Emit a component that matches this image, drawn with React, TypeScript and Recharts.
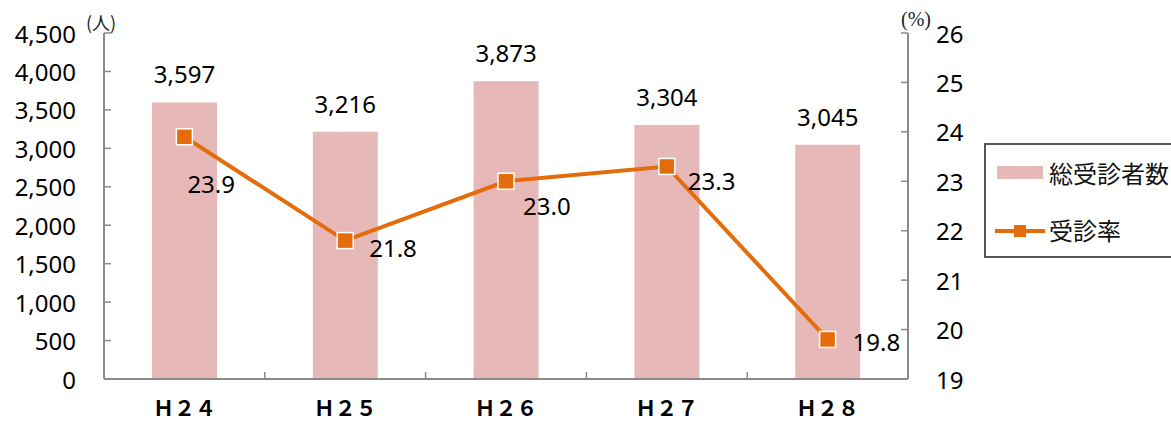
import { ComposedChart, Bar, Line, XAxis, YAxis, LabelList } from 'recharts';

const categories = ['Ｈ２４', 'Ｈ２５', 'Ｈ２６', 'Ｈ２７', 'Ｈ２８'];
const examinees = [3597, 3216, 3873, 3304, 3045];
const rates = [23.9, 21.8, 23.0, 23.3, 19.8];
const countTicks = [0, 500, 1000, 1500, 2000, 2500, 3000, 3500, 4000, 4500];
const rateTicks = [19, 20, 21, 22, 23, 24, 25, 26];

// where each rate label sits relative to its marker (text left edge / text centre)
const rateLabelNudge = [
  { dx: 3, dy: 47 },
  { dx: 24, dy: 7 },
  { dx: 17, dy: 24 },
  { dx: 21, dy: 14 },
  { dx: 25, dy: 2 },
];

const data = categories.map((name, i) => ({ name, examinees: examinees[i], rate: rates[i] }));

const W = 1171;
const H = 423;
const PLOT_LEFT = 104;
const PLOT_RIGHT = 908;
const BAND = (PLOT_RIGHT - PLOT_LEFT) / categories.length;

const AXIS = '#8a8a8a';
const BAR = '#e6b9b8';
const ORANGE = '#e46c0a';
const NUM_FONT = '"Noto Sans", sans-serif';
const JP_FONT = '"Noto Sans CJK JP", sans-serif';

const LeftTick = (props: any) => {
  const { x, y, payload } = props;
  return (
    <g>
      {payload.value !== 0 && <line x1={x} x2={x + 7} y1={y} y2={y} stroke={AXIS} strokeWidth={1.5} />}
      <text x={x - 28} y={y} textAnchor="end" dominantBaseline="central" fontSize={24} fontFamily={NUM_FONT} fill="#000">
        {Number(payload.value).toLocaleString('en-US')}
      </text>
    </g>
  );
};

const RightTick = (props: any) => {
  const { x, y, payload } = props;
  return (
    <g>
      {payload.value !== 19 && <line x1={x} x2={x - 7} y1={y} y2={y} stroke={AXIS} strokeWidth={1.5} />}
      <text x={x + 28} y={y} textAnchor="start" dominantBaseline="central" fontSize={24} fontFamily={NUM_FONT} fill="#000">
        {payload.value}
      </text>
    </g>
  );
};

const BottomTick = (props: any) => {
  const { x, y, payload, index } = props;
  const bx = x - BAND / 2;
  return (
    <g>
      {index > 0 && <line x1={bx} x2={bx} y1={y} y2={y - 7} stroke={AXIS} strokeWidth={1.5} />}
      <text x={x} y={y + 28} textAnchor="middle" dominantBaseline="central" fontSize={21} fontWeight="bold" fontFamily={JP_FONT} fill="#000">
        {payload.value}
      </text>
    </g>
  );
};

const RateDot = (props: any) => {
  const { cx, cy } = props;
  if (cx == null || cy == null) return null;
  return <rect x={cx - 8} y={cy - 8} width={16} height={16} fill={ORANGE} stroke="#fff" strokeWidth={1.5} />;
};

const RateLabel = (props: any) => {
  const { x, y, value, index } = props;
  const n = rateLabelNudge[index] || { dx: 20, dy: 0 };
  return (
    <text x={x + n.dx} y={y + n.dy} textAnchor="start" dominantBaseline="central" fontSize={24} fontFamily={NUM_FONT} fill="#000">
      {Number(value).toFixed(1)}
    </text>
  );
};

export default function App() {
  return (
    <div style={{ position: 'absolute', left: 0, top: 0, width: W, height: H, background: '#fff', overflow: 'hidden' }}>
      <ComposedChart
        width={W}
        height={H}
        data={data}
        margin={{ top: 33, right: W - PLOT_RIGHT - 60, bottom: 0, left: 0 }}
      >
        <XAxis
          dataKey="name"
          height={44}
          stroke={AXIS}
          axisLine={{ stroke: AXIS, strokeWidth: 2 }}
          tickLine={false}
          tickSize={0}
          tickMargin={0}
          tick={<BottomTick />}
          interval={0}
        />
        <YAxis
          yAxisId="left"
          width={PLOT_LEFT}
          domain={[0, 4500]}
          ticks={countTicks}
          axisLine={{ stroke: AXIS, strokeWidth: 2 }}
          tickLine={false}
          tickSize={0}
          tickMargin={0}
          tick={<LeftTick />}
          interval={0}
        />
        <YAxis
          yAxisId="right"
          orientation="right"
          width={60}
          domain={[19, 26]}
          ticks={rateTicks}
          axisLine={{ stroke: AXIS, strokeWidth: 2 }}
          tickLine={false}
          tickSize={0}
          tickMargin={0}
          tick={<RightTick />}
          interval={0}
        />
        <Bar yAxisId="left" dataKey="examinees" fill={BAR} barSize={65} isAnimationActive={false}>
          <LabelList
            dataKey="examinees"
            position="top"
            offset={19}
            fontSize={24}
            fontFamily={NUM_FONT}
            fill="#000"
            formatter={(v: any) => Number(v).toLocaleString('en-US')}
          />
        </Bar>
        <Line
          yAxisId="right"
          dataKey="rate"
          stroke={ORANGE}
          strokeWidth={4}
          dot={<RateDot />}
          activeDot={false}
          isAnimationActive={false}
        >
          <LabelList dataKey="rate" content={<RateLabel />} />
        </Line>
      </ComposedChart>

      <div style={{ position: 'absolute', left: 86, top: 11, fontSize: 18, fontFamily: JP_FONT, color: '#222', lineHeight: '22px' }}>(人)</div>
      <div style={{ position: 'absolute', left: 901, top: 7, fontSize: 20, fontFamily: '"Liberation Serif", serif', color: '#222', lineHeight: '24px' }}>(%)</div>

      <div
        style={{
          position: 'absolute',
          left: 984,
          top: 143,
          width: 220,
          height: 115,
          border: '2px solid #555',
          boxSizing: 'border-box',
          fontFamily: JP_FONT,
          fontSize: 24,
          color: '#111',
        }}
      >
        <div style={{ position: 'absolute', left: 11, top: 21, width: 46, height: 13, background: BAR }} />
        <div style={{ position: 'absolute', left: 63, top: 11, lineHeight: '34px', whiteSpace: 'nowrap' }}>総受診者数</div>
        <div style={{ position: 'absolute', left: 9, top: 84, width: 50, height: 4, background: ORANGE }} />
        <div style={{ position: 'absolute', left: 28, top: 80, width: 12, height: 12, background: ORANGE }} />
        <div style={{ position: 'absolute', left: 63, top: 68, lineHeight: '34px', whiteSpace: 'nowrap' }}>受診率</div>
      </div>
    </div>
  );
}
